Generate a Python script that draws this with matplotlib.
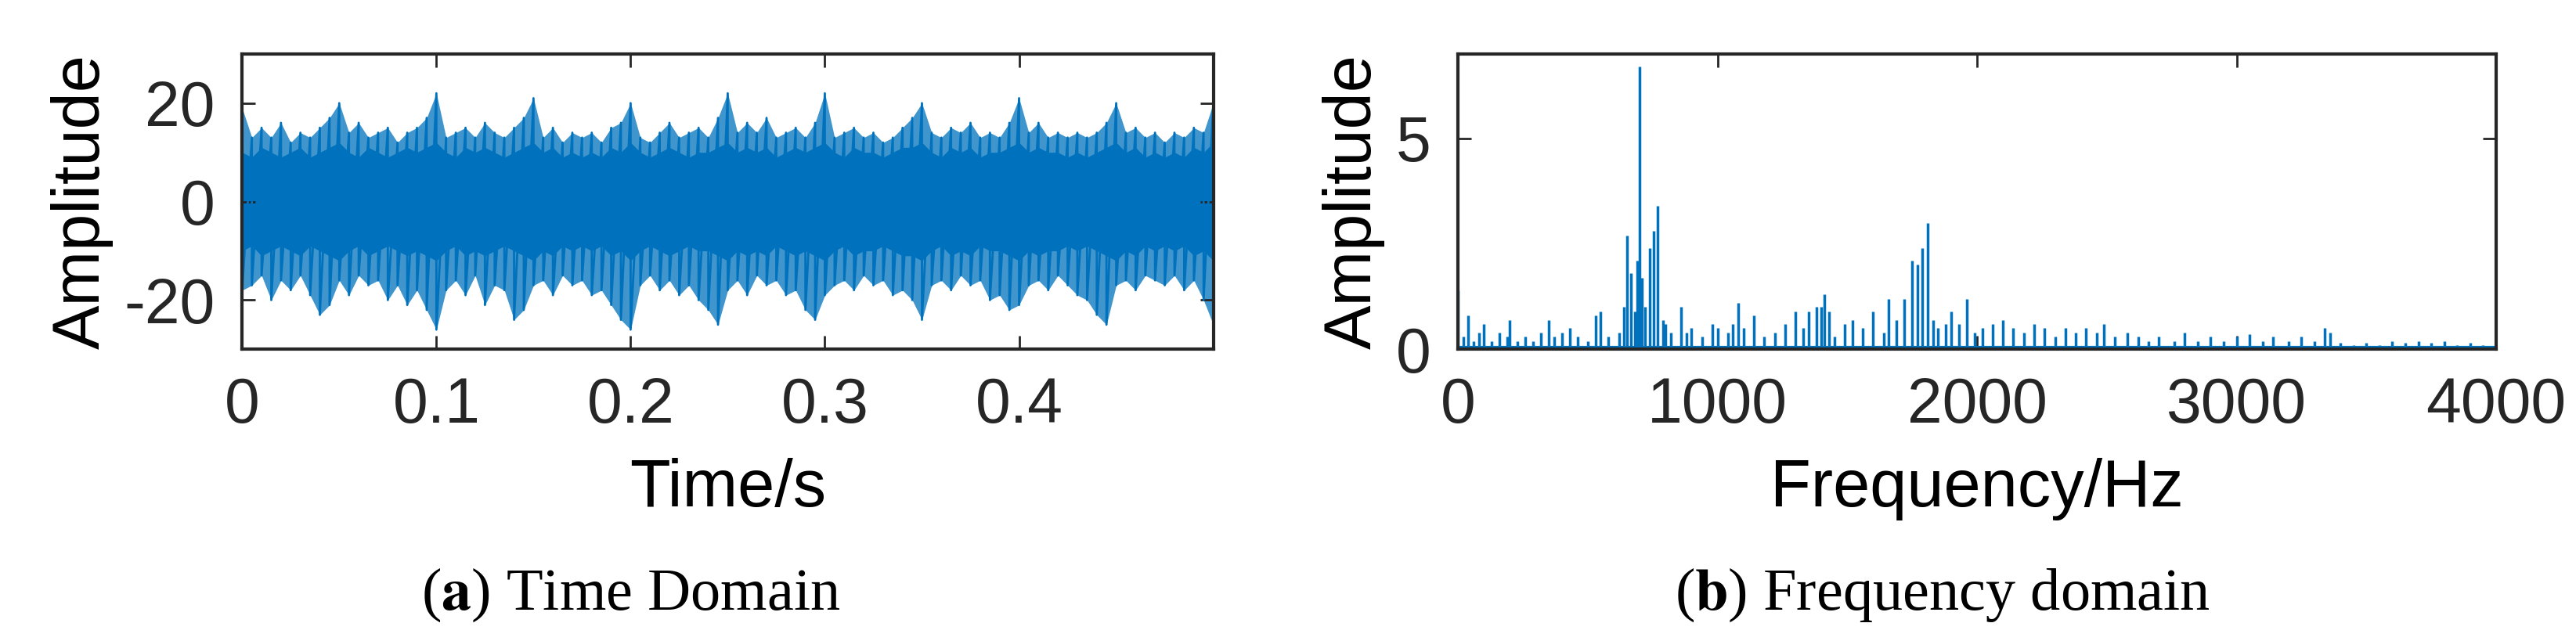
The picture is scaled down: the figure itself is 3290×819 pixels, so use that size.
import numpy as np
import matplotlib.pyplot as plt

# time-domain envelope, one value every 5 ms
t_step = 0.005
upper = [19, 13, 15, 13, 16, 12, 14, 13, 15, 17, 20, 14, 16, 13, 14, 15, 12, 14, 15, 17,
         22, 13, 14, 15, 13, 16, 14, 13, 15, 17, 21, 13, 15, 12, 14, 13, 14, 12, 15, 16,
         20, 13, 12, 14, 16, 13, 14, 15, 13, 17, 22, 14, 16, 14, 17, 13, 14, 15, 13, 16,
         22, 13, 14, 15, 13, 14, 12, 13, 15, 17, 20, 14, 13, 15, 14, 16, 13, 14, 13, 16,
         21, 14, 16, 13, 14, 13, 14, 13, 14, 16, 20, 14, 15, 13, 14, 12, 14, 13, 15, 14, 20]
lower = [-18, -17, -15, -20, -16, -18, -15, -19, -23, -21, -16, -19, -15, -17, -16, -20, -17, -21, -18, -22,
         -26, -18, -16, -19, -15, -21, -17, -18, -24, -22, -17, -16, -19, -15, -17, -16, -19, -18, -21, -24,
         -26, -17, -15, -18, -16, -19, -17, -20, -22, -25, -18, -16, -19, -15, -17, -16, -19, -18, -22, -24,
         -19, -17, -16, -18, -15, -17, -16, -19, -18, -20, -24, -17, -16, -18, -15, -17, -16, -20, -19, -22,
         -21, -17, -16, -18, -15, -17, -19, -20, -23, -25, -17, -16, -18, -15, -16, -17, -15, -18, -16, -20, -25]
core_hi = [10, 9, 11, 10, 9, 10, 11, 9, 10, 11, 12, 10, 9, 11, 10, 9, 10, 11, 10, 11,
           12, 10, 9, 11, 10, 11, 10, 9, 10, 11, 12, 10, 11, 9, 10, 9, 10, 9, 11, 10,
           12, 10, 9, 10, 11, 10, 9, 10, 10, 11, 12, 10, 11, 10, 11, 9, 10, 11, 10, 11,
           12, 10, 9, 11, 10, 10, 9, 10, 11, 11, 12, 10, 9, 11, 10, 11, 9, 10, 10, 11,
           12, 10, 11, 10, 10, 9, 10, 9, 10, 11, 12, 10, 11, 9, 10, 9, 10, 9, 11, 10, 12]

# spectrum peaks
freq = [0, 20, 40, 60, 80, 100, 130, 160, 190, 200, 230, 260, 290, 320, 350, 370, 400, 430, 460, 500,
        530, 550, 580, 620, 640, 650, 665, 680, 690, 700, 710, 720, 740, 755, 770, 790, 800, 820, 860, 880,
        900, 940, 980, 1000, 1040, 1060, 1080, 1100, 1140, 1180, 1220, 1260, 1300, 1330, 1350, 1380, 1400, 1410, 1430, 1450,
        1490, 1520, 1560, 1600, 1640, 1660, 1690, 1720, 1750, 1770, 1790, 1810, 1830, 1850, 1880, 1900, 1930, 1960, 1990, 2020,
        2060, 2100, 2140, 2180, 2220, 2260, 2300, 2340, 2380, 2420, 2460, 2490, 2530, 2580, 2620, 2660, 2700, 2760, 2800, 2850,
        2900, 2950, 3000, 3050, 3100, 3140, 3200, 3250, 3300, 3340, 3360, 3400, 3450, 3500, 3550, 3600, 3650, 3700, 3750, 3800,
        3850, 3900, 3950, 4000]
amp = [1.4, 0.3, 0.8, 0.2, 0.4, 0.6, 0.2, 0.4, 0.3, 0.7, 0.2, 0.3, 0.2, 0.4, 0.7, 0.3, 0.4, 0.5, 0.3, 0.2,
       0.8, 0.9, 0.3, 0.4, 1.0, 2.7, 1.8, 0.9, 2.1, 6.7, 1.7, 1.0, 2.4, 2.8, 3.4, 0.7, 0.6, 0.4, 1.0, 0.4,
       0.5, 0.3, 0.6, 0.5, 0.4, 0.6, 1.1, 0.5, 0.8, 0.3, 0.4, 0.6, 0.9, 0.5, 0.9, 1.0, 1.0, 1.3, 0.9, 0.3,
       0.6, 0.7, 0.5, 0.9, 0.4, 1.2, 0.7, 1.2, 2.1, 2.0, 2.4, 3.0, 0.7, 0.5, 0.6, 0.9, 0.6, 1.2, 0.4, 0.5,
       0.6, 0.7, 0.5, 0.4, 0.6, 0.5, 0.3, 0.5, 0.4, 0.5, 0.4, 0.6, 0.3, 0.4, 0.3, 0.2, 0.3, 0.2, 0.4, 0.2,
       0.3, 0.2, 0.3, 0.35, 0.2, 0.3, 0.2, 0.3, 0.2, 0.5, 0.4, 0.15, 0.1, 0.15, 0.1, 0.2, 0.15, 0.2, 0.15, 0.2,
       0.1, 0.15, 0.1, 0.1]

blue = '#0072BD'
plt.rcParams['font.family'] = ['Liberation Sans', 'DejaVu Sans']
plt.rcParams['axes.unicode_minus'] = False

fig = plt.figure(figsize=(32.9, 8.19), dpi=100)
ax1 = fig.add_axes([0.094, 0.455, 0.377, 0.461])
ax2 = fig.add_axes([0.566, 0.455, 0.403, 0.461])

t = np.arange(len(upper)) * t_step
core_lo = [-v for v in core_hi]
ax1.fill_between(t, lower, upper, color=blue, alpha=0.75, lw=0)
ax1.fill_between(t, core_lo, core_hi, color=blue, lw=0)
zig_t = np.repeat(t, 2)
zig_y = np.ravel(np.column_stack([upper, lower]))
ax1.plot(zig_t, zig_y, color=blue, lw=2)
ax1.set_xlim(0, 0.5)
ax1.set_ylim(-30, 30)
ax1.set_xticks([0, 0.1, 0.2, 0.3, 0.4])
ax1.set_xticklabels(['0', '0.1', '0.2', '0.3', '0.4'])
ax1.set_yticks([-20, 0, 20])
ax1.set_xlabel('Time/s', fontsize=61, labelpad=20)
ax1.set_ylabel('Amplitude', fontsize=61, labelpad=10)

ax2.vlines(freq, 0, amp, color=blue, lw=2.5)
ax2.axhline(0.05, color=blue, lw=3)
ax2.set_xlim(0, 4000)
ax2.set_ylim(0, 7)
ax2.set_xticks([0, 1000, 2000, 3000, 4000])
ax2.set_yticks([0, 5])
ax2.set_xlabel('Frequency/Hz', fontsize=61, labelpad=20)
ax2.set_ylabel('Amplitude', fontsize=61, labelpad=10)

for ax in (ax1, ax2):
    for s in ax.spines.values():
        s.set_linewidth(3)
        s.set_color('#262626')
    ax.tick_params(direction='in', length=12, width=2, labelsize=58, pad=25,
                   top=True, right=True, colors='#262626')

fig.text(0.245, 0.072, r'($\mathbf{a}$) Time Domain', ha='center', va='center',
         fontsize=55, family='Liberation Serif', math_fontfamily='stix')
fig.text(0.754, 0.072, r'($\mathbf{b}$) Frequency domain', ha='center', va='center',
         fontsize=55, family='Liberation Serif', math_fontfamily='stix')

fig.savefig('out.png', dpi=100)
